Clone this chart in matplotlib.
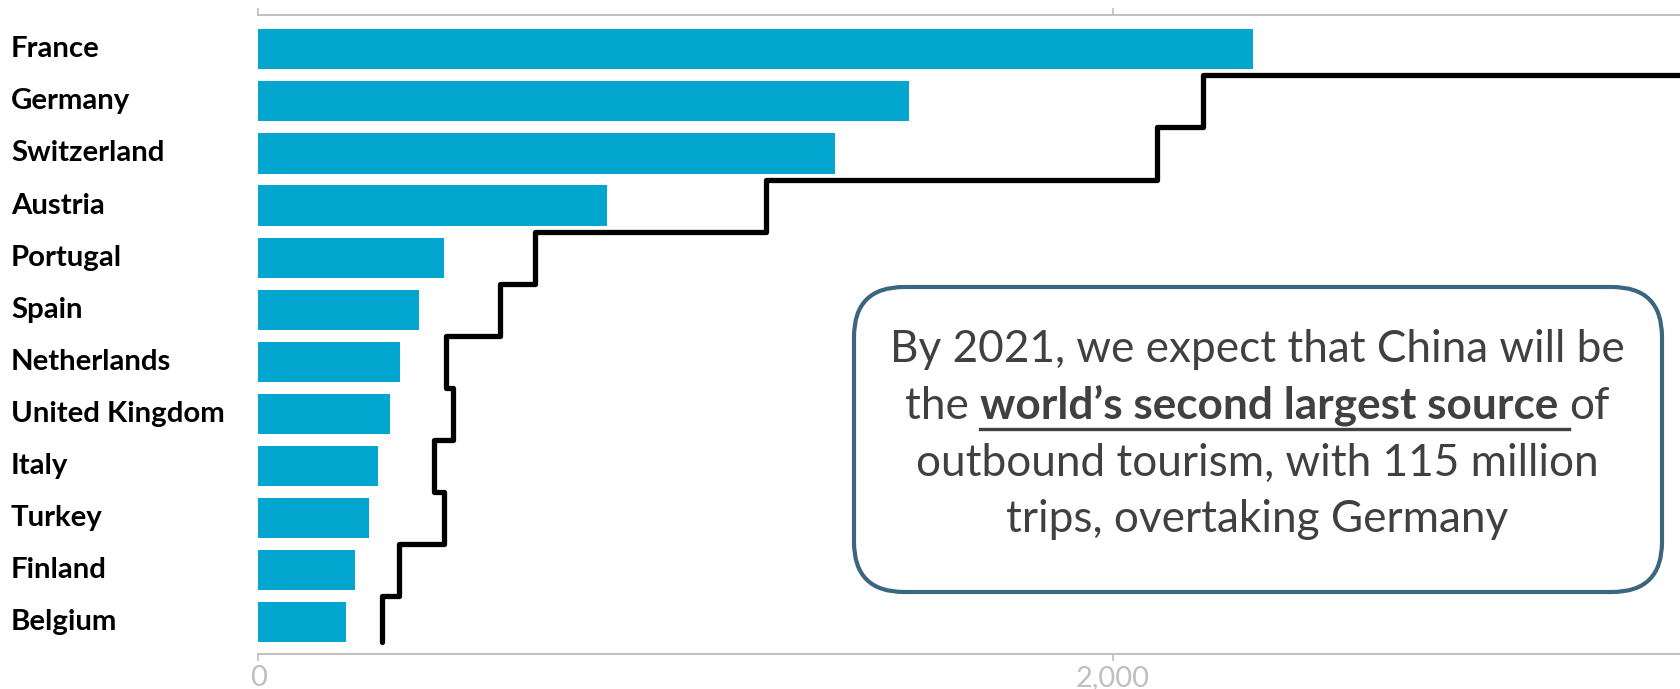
import matplotlib
matplotlib.use("Agg")
import matplotlib.pyplot as plt
from matplotlib.patches import FancyBboxPatch

plt.rcParams['font.family'] = ['Lato', 'DejaVu Sans']

# Destination countries, top to bottom
countries = ["France", "Germany", "Switzerland", "Austria", "Portugal", "Spain",
             "Netherlands", "United Kingdom", "Italy", "Turkey", "Finland", "Belgium"]
# Bar series
bar_values = [2329, 1523, 1350, 817, 435, 375, 331, 307, 281, 260, 227, 204]
# Step-line series (France runs past the right edge)
line_values = [3600, 2211, 2103, 1188, 647, 566, 440, 455, 411, 435, 329, 289]

x_ticks = [0, 2000]
x_tick_labels = ["0", "2,000"]

BAR_COLOR = "#03A6CF"
AXIS_GRAY = "#BFBFBF"
TEXT_GRAY = "#404040"
BOX_EDGE = "#3B6680"

W, H, DPI = 1681, 689, 100
fig = plt.figure(figsize=(W / DPI, H / DPI), dpi=DPI)
ax = fig.add_axes([258.4 / W, 1 - 654.3 / H, 1 - 258.4 / W, (654.3 - 15) / H])

n = len(countries)
ypos = list(range(n))
ax.barh(ypos, bar_values, height=0.77, color=BAR_COLOR, zorder=2)

# Build the staircase: vertical run through each category band, horizontal hop at band edges
xs, ys = [], []
last = n - 1
xs.append(line_values[last]); ys.append(last + 0.38)
for i in range(last, -1, -1):
    xs.append(line_values[i]); ys.append(i - 0.5)
    if i > 0:
        xs.append(line_values[i - 1]); ys.append(i - 0.5)
ax.plot(xs, ys, color="black", lw=3.8, solid_joinstyle="round",
        solid_capstyle="round", zorder=3)

ax.set_xlim(0, 3330)
ax.set_ylim(n - 1 + 0.62, -0.66)

for side in ("left", "right"):
    ax.spines[side].set_visible(False)
for side in ("top", "bottom"):
    ax.spines[side].set_color(AXIS_GRAY)
    ax.spines[side].set_linewidth(1.4)

ax.set_xticks(x_ticks, x_tick_labels)
ax.tick_params(axis="x", which="both", top=True, bottom=True, labeltop=False,
               labelbottom=True, direction="out", length=5, width=1.2,
               color=AXIS_GRAY, labelcolor=AXIS_GRAY, labelsize=21, pad=3)

ax.set_yticks(ypos, countries)
ax.tick_params(axis="y", length=0, pad=(258.4 - 11) * 72 / DPI)
for lbl in ax.get_yticklabels():
    lbl.set_horizontalalignment("left")
    lbl.set_verticalalignment("center")
    lbl.set_fontweight("bold")
    lbl.set_fontsize(21.2)
    lbl.set_color("black")

# Call-out box (positions in figure inches)
inch = fig.dpi_scale_trans
bx0, bx1 = 854 / DPI, 1662 / DPI
by0, by1 = (H - 592) / DPI, (H - 287) / DPI
box = FancyBboxPatch((bx0, by0), bx1 - bx0, by1 - by0,
                     boxstyle="round,pad=0,rounding_size=0.5",
                     transform=inch, facecolor="white", edgecolor=BOX_EDGE,
                     linewidth=3, zorder=5)
fig.add_artist(box)

cx = 1257 / DPI
fs = 31.8
baselines = [362, 419, 476, 532]

def put(x, y_px, s, **kw):
    return fig.text(x, (H - y_px) / DPI, s, transform=inch, va="baseline",
                    color=TEXT_GRAY, fontsize=fs, zorder=6, **kw)

put(cx, baselines[0], "By 2021, we expect that China will be", ha="center")
put(cx, baselines[2], "outbound tourism, with 115 million", ha="center")
put(cx, baselines[3], "trips, overtaking Germany", ha="center")

# Mixed-weight second line with underlined emphasis
fig.canvas.draw()
renderer = fig.canvas.get_renderer()

def width_in(s, **kw):
    t = fig.text(0, 0, s, fontsize=fs, **kw)
    w = t.get_window_extent(renderer).width / DPI
    t.remove()
    return w

sp_r = width_in("x x") - width_in("xx")
sp_b = width_in("x x", fontweight="bold") - width_in("xx", fontweight="bold")
part1, part2, part3 = "the", "world\u2019s second largest source", "of"
w1 = width_in(part1)
w2 = width_in(part2, fontweight="bold")
w3 = width_in(part3)
total = w1 + sp_r + w2 + sp_b + w3
x = cx - total / 2
put(x, baselines[1], part1, ha="left")
x2 = x + w1 + sp_r
put(x2, baselines[1], part2, ha="left", fontweight="bold")
put(x2 + w2 + sp_b, baselines[1], part3, ha="left")
uy = (H - baselines[1] - 10) / DPI
fig.add_artist(plt.Line2D([x2, x2 + w2 + sp_b], [uy, uy], transform=inch,
                          color=TEXT_GRAY, lw=2.4, zorder=6))

fig.savefig("out.png", dpi=DPI)
